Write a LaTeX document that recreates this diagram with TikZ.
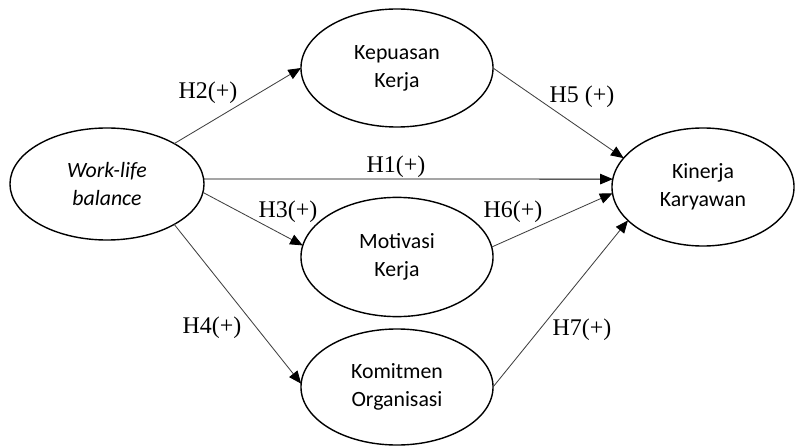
\documentclass[tikz,border=0pt]{standalone}
\usepackage{fontspec}
\setmainfont{Liberation Serif}
\newfontfamily\calfont{Carlito}
\usepackage{tikz}
\usetikzlibrary{shapes.geometric,arrows.meta}

\tikzset{
	var/.style={ellipse, draw, line width=1pt, inner sep=0pt, outer sep=0pt, align=center,
		minimum width=4.8cm, minimum height=2.95cm, font=\calfont\fontsize{15.5}{20}\selectfont},
	link/.style={draw=black!75, line width=0.6pt, -{Triangle[length=9pt,width=7.5pt,color=black]}},
	hyp/.style={font=\fontsize{17}{20}\selectfont, inner sep=0pt}
}

\begin{document}
\begin{tikzpicture}[x=0.025cm, y=-0.025cm]
				\useasboundingbox (0, 0) rectangle (795, 446);
				\node[var, minimum width=4.85cm, minimum height=2.8cm] (wlb) at (107, 184) { \textit{Work-life}\\\textit{balance} };
				\node[var] (kepuasan) at (397, 68) { Kepuasan\\Kerja };
				\node[var, minimum height=2.98cm] (motivasi) at (397, 257) { Motivasi\\Kerja };
				\node[var, minimum height=2.9cm] (komitmen) at (397, 387) { Komitmen\\Organisasi };
				\node[var, minimum width=4.55cm] (kinerja) at (703, 187) { Kinerja\\Karyawan };
				% hipotesis
				\draw[link, draw=black] (wlb.3) -- (kinerja.175);
				\draw[link] (wlb.31) -- (kepuasan.180);
				\draw[link] (wlb.-5) -- (motivasi.173);
				\draw[link] (wlb.-31) -- (komitmen.178);
				\draw[link] (kepuasan.0) -- (kinerja.160);
				\draw[link] (motivasi.6) -- (kinerja.184);
				\draw[link] (komitmen.0) -- (kinerja.204);
				\node[hyp] (h1) at (396, 167) { H1(+) };
				\node[hyp] (h2) at (208, 93) { H2(+) };
				\node[hyp] (h3) at (288, 212) { H3(+) };
				\node[hyp] (h4) at (212, 328) { H4(+) };
				\node[hyp] (h5) at (582, 97) { H5 (+) };
				\node[hyp] (h6) at (513, 212) { H6(+) };
				\node[hyp] (h7) at (582, 330) { H7(+) };
			\end{tikzpicture}
\end{document}
